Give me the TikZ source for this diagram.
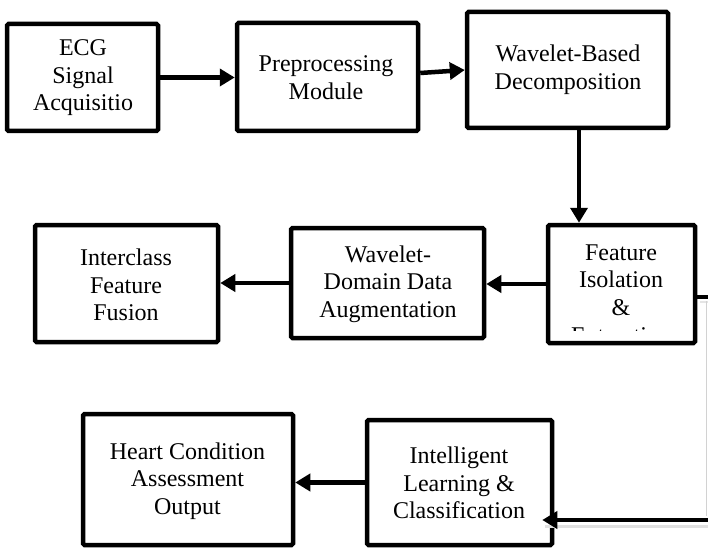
\documentclass[tikz,border=0pt]{standalone}
\usepackage{fontspec}
\setmainfont{Liberation Serif}
\usetikzlibrary{arrows.meta}
\begin{document}
\begin{tikzpicture}[x=1pt,y=-1pt,
  box/.style={draw, line width=4.5pt, rounded corners=1.5pt, inner sep=0pt, fill=white},
  lbl/.style={align=center, font=\fontsize{24}{27.6}\selectfont, inner sep=0pt},
  conn/.style={line width=4.5pt, -{Triangle[length=15pt,width=17pt]}}]
\useasboundingbox (0,0) rectangle (708,548);
\clip (0,0) rectangle (708,548);
\fill[white] (0,0) rectangle (708,548);

% boxes
\node[box, minimum width=151pt, minimum height=107pt] (ecg) at (82.5,77.5) {};
\node[box, minimum width=181pt, minimum height=108pt] (pre) at (327.5,77) {};
\node[box, minimum width=201pt, minimum height=116pt] (wav) at (567.5,70) {};
\node[box, minimum width=147pt, minimum height=118pt] (feat) at (621.5,284) {};
\node[box, minimum width=193pt, minimum height=110pt] (wda) at (387.5,283) {};
\node[box, minimum width=183pt, minimum height=117pt] (iff) at (126.5,283.5) {};
\node[box, minimum width=185pt, minimum height=125pt] (intel) at (459.5,482.5) {};
\node[box, minimum width=210pt, minimum height=131pt] (hca) at (188,479.5) {};

% labels
\node[lbl] (tecg) at (83,78) {ECG\\Signal\\Acquisitio};
\node[lbl] (tpre) at (326,77.5) {Preprocessing\\Module};
\node[lbl] (twav) at (568,70) {Wavelet-Based\\Decomposition};
\begin{scope}
  \clip (550,227) rectangle (692,330);
  \node[lbl] (tfeat) at (621,294) {Feature\\Isolation\\\&\\Extraction};
\end{scope}
\node[lbl] (twda) at (388,284) {Wavelet-\\Domain Data\\Augmentation};
\node[lbl] (tiff) at (126,285) {Interclass\\Feature\\Fusion};
\node[lbl] (tintel) at (459,483) {Intelligent\\Learning \&\\Classification};
\node[lbl] (thca) at (187.5,481) {Heart Condition\\Assessment\\Output};

% helper coordinates
\coordinate (r1) at (712,297);
\coordinate (r2) at (712,520);

% shadow / panel edge
\draw[black!12, line width=3pt] (545,526) -- (708,526);
\draw[black!10, line width=2pt] (700,302) -- (708,302);
\draw[gray!35, line width=1pt] (706,301) -- (706,516);

% connectors
\draw[conn] (ecg.east) -- (ecg.east -| pre.west);
\draw[conn] ([yshift=4pt]pre.east) -- (wav.west);
\draw[conn] ([xshift=11.5pt]wav.south) -- ([xshift=-42.5pt]feat.north);
\draw[conn] (feat.west) -- (feat.west -| wda.east);
\draw[conn] (wda.west) -- (wda.west -| iff.east);
\draw[conn] (intel.west) -- (intel.west -| hca.east);
\draw[conn] (feat.east |- r1) -- (r1) -- (r2) -- ([xshift=-12pt]intel.east |- r2);
\end{tikzpicture}
\end{document}
